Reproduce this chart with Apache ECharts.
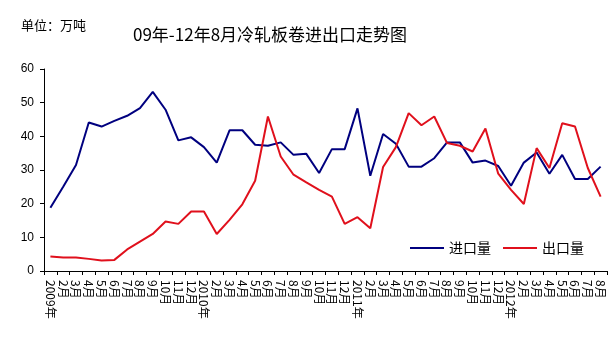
<!DOCTYPE html>
<html>
<head>
<meta charset="utf-8">
<script src="https://cdn.jsdelivr.net/npm/echarts@6/dist/echarts.min.js"></script>
<style>
  html, body { margin: 0; padding: 0; background: #fff; }
  #chart { width: 615px; height: 341px; }
</style>
</head>
<body>
<div id="chart"></div>
<script>
// Month labels, Jan 2009 – Aug 2012
const months = [
  '2009年','2月','3月','4月','5月','6月','7月','8月','9月','10月','11月','12月',
  '2010年','2月','3月','4月','5月','6月','7月','8月','9月','10月','11月','12月',
  '2011年','2月','3月','4月','5月','6月','7月','8月','9月','10月','11月','12月',
  '2012年','2月','3月','4月','5月','6月','7月','8月'
];

// Cold-rolled sheet & coil imports (10k tonnes)
const importVol = [
  18.8, 25.0, 31.5, 44.1, 42.9, 44.6, 46.1, 48.4, 53.2, 47.9, 38.8, 39.7,
  36.8, 32.2, 41.8, 41.8, 37.5, 37.2, 38.2, 34.5, 34.8, 29.1, 36.2, 36.2,
  48.3, 28.3, 40.7, 37.8, 31.0, 31.0, 33.5, 38.2, 38.2, 32.2, 32.8, 31.2,
  25.3, 32.2, 35.2, 28.9, 34.5, 27.3, 27.3, 31.0
];

// Cold-rolled sheet & coil exports (10k tonnes)
const exportVol = [
  4.3, 4.0, 4.0, 3.6, 3.1, 3.3, 6.4, 8.7, 11.0, 14.7, 14.0, 17.7,
  17.7, 11.0, 15.2, 19.8, 26.8, 45.9, 34.0, 28.6, 26.3, 24.1, 22.1, 14.0,
  16.0, 12.7, 30.9, 36.8, 46.9, 43.3, 45.9, 38.0, 37.2, 35.5, 42.3, 28.9,
  24.1, 19.9, 36.5, 30.6, 43.9, 42.9, 30.6, 22.1
];

const yTicks = { min: 0, max: 60, interval: 10 };

const cjk = '"Noto Sans CJK SC", "Noto Sans", sans-serif';

const chart = echarts.init(document.getElementById('chart'), null, { renderer: 'canvas' });
chart.setOption({
  backgroundColor: '#ffffff',
  animation: false,
  title: [
    {
      text: '09年-12年8月冷轧板卷进出口走势图',
      left: 128,
      top: 21,
      textStyle: { fontFamily: cjk, fontSize: 17, fontWeight: 'normal', color: '#000' }
    },
    {
      text: '单位：万吨',
      left: 16,
      top: 14,
      textStyle: { fontFamily: cjk, fontSize: 13, fontWeight: 'normal', color: '#000' }
    }
  ],
  legend: {
    right: 26,
    top: 236,
    itemWidth: 34,
    itemHeight: 2,
    itemGap: 12,
    icon: 'rect',
    textStyle: { fontFamily: cjk, fontSize: 14, color: '#000' },
    data: ['进口量', '出口量']
  },
  grid: { left: 44, right: 8, top: 69, bottom: 70 },
  xAxis: {
    type: 'category',
    data: months,
    boundaryGap: true,
    axisLine: { lineStyle: { color: '#000', width: 1 } },
    axisTick: { show: true, length: 4, interval: 0, lineStyle: { color: '#000' } },
    axisLabel: {
      interval: 0,
      rotate: -90,
      margin: 9,
      fontFamily: cjk,
      fontSize: 12,
      color: '#000'
    },
    splitLine: { show: false }
  },
  yAxis: {
    type: 'value',
    min: yTicks.min,
    max: yTicks.max,
    interval: yTicks.interval,
    axisLine: { show: true, lineStyle: { color: '#000', width: 1 } },
    axisTick: { show: true, length: 4, lineStyle: { color: '#000' } },
    axisLabel: { fontFamily: 'Arial, "Liberation Sans", sans-serif', fontSize: 12, color: '#000', margin: 10 },
    splitLine: { show: false }
  },
  series: [
    {
      name: '进口量',
      type: 'line',
      data: importVol,
      symbol: 'none',
      lineStyle: { color: '#00007f', width: 2 },
      itemStyle: { color: '#00007f' }
    },
    {
      name: '出口量',
      type: 'line',
      data: exportVol,
      symbol: 'none',
      lineStyle: { color: '#e0101c', width: 2 },
      itemStyle: { color: '#e0101c' }
    }
  ]
});
</script>
</body>
</html>
